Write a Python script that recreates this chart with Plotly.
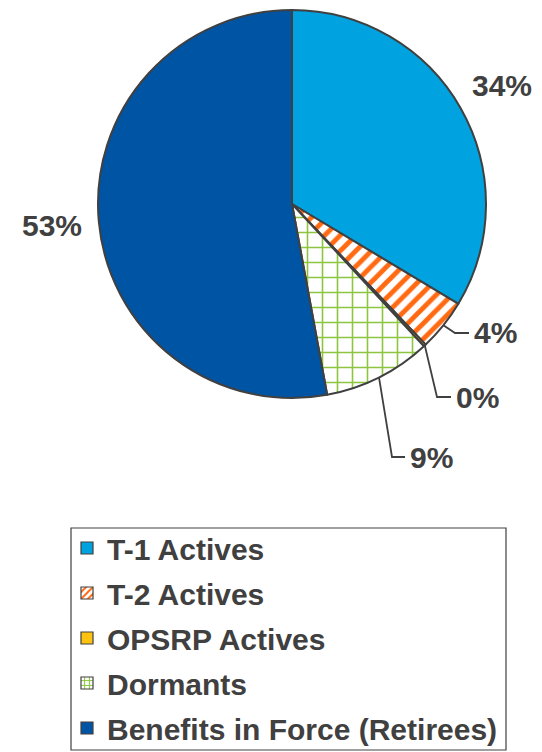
import math
import plotly.graph_objects as go

# ---- data ----
categories = ["T-1 Actives", "T-2 Actives", "OPSRP Actives", "Dormants",
              "Benefits in Force (Retirees)"]
values = [33.6, 4.3, 0.2, 9.0, 52.9]
pct_labels = ["34%", "4%", "0%", "9%", "53%"]

# ---- styles ----
W, H = 542, 752
CX, CY, R = 292, 204, 194
TXT = "#404040"
FONT = "Liberation Sans, Arial, sans-serif"
colors = ["#00A2DF", "#FF6A13", "#FFC20E", "#8CC63F", "#0054A4"]
patterns = [
    dict(shape=""),
    dict(shape="/", fgcolor="#FF6A13", bgcolor="white", size=11, solidity=0.45),
    dict(shape=""),
    dict(shape="+", fgcolor="#8CC63F", bgcolor="white", size=15, solidity=0.2),
    dict(shape=""),
]
# label placement: None -> along slice mid angle; else (elbow_px, end_px) for leader lines
leaders = [None, ((455, 333), (469, 333)), ((437, 397), (451, 397)),
           ((392, 457), (405, 457)), None]
LABEL_R = 241
LEG_BOX = (71, 528, 506, 750)


def px(x, y):
    return x / W, 1 - y / H


fig = go.Figure()
fig.add_trace(go.Pie(
    labels=categories, values=values, sort=False, direction="clockwise",
    rotation=0, textinfo="none", hoverinfo="label+percent", showlegend=False,
    marker=dict(colors=colors, pattern=dict(
        shape=[p.get("shape", "") for p in patterns],
        fgcolor=[p.get("fgcolor", c) for p, c in zip(patterns, colors)],
        bgcolor=[p.get("bgcolor", c) for p, c in zip(patterns, colors)],
        size=[p.get("size", 8) for p in patterns],
        solidity=[p.get("solidity", 0.3) for p in patterns],
        fillmode="replace"),
        line=dict(color=TXT, width=2)),
    domain=dict(x=[(CX - R) / W, (CX + R) / W], y=[1 - (CY + R) / H, 1 - (CY - R) / H]),
))

# legend via proxy bar traces (allows item spacing)
for i, (name, c, p) in enumerate(zip(categories, colors, patterns)):
    fig.add_trace(go.Bar(
        x=[None], y=[None], name="<b>" + name + "</b>", legendgroup=f"g{i}",
        marker=dict(color=c, line=dict(color=TXT, width=1.2),
                    pattern=dict(shape=p.get("shape", ""),
                                 fgcolor=p.get("fgcolor", c),
                                 bgcolor=p.get("bgcolor", c),
                                 size=6, solidity=0.4, fillmode="replace")),
        hoverinfo="skip"))

annotations = []
shapes = []
total = sum(values)
cum = 0.0
for v, lab, ld in zip(values, pct_labels, leaders):
    mid = (cum + v / 2) / total * 2 * math.pi
    cum += v
    sx, sy = math.sin(mid), -math.cos(mid)
    if ld is None:
        lx, ly = CX + LABEL_R * sx, CY + LABEL_R * sy
        ax, ay = px(lx, ly)
        annotations.append(dict(x=ax, y=ay, xref="paper", yref="paper", text="<b>" + lab + "</b>",
                                showarrow=False, xanchor="center", yanchor="middle",
                                font=dict(family=FONT, size=30, color=TXT)))
    else:
        x0, y0 = CX + R * sx, CY + R * sy
        (ex, ey), (fx, fy) = ld
        pts = [(x0, y0), (ex, ey), (fx, fy)]
        path = "M " + " L ".join(f"{px(a, b)[0]},{px(a, b)[1]}" for a, b in pts)
        shapes.append(dict(type="path", path=path, xref="paper", yref="paper",
                           line=dict(color=TXT, width=1.8)))
        ax, ay = px(fx + 3, fy)
        annotations.append(dict(x=ax, y=ay, xref="paper", yref="paper", text="<b>" + lab + "</b>",
                                showarrow=False, xanchor="left", yanchor="middle",
                                font=dict(family=FONT, size=30, color=TXT)))

# legend frame
bx0, by0 = px(LEG_BOX[0], LEG_BOX[1])
bx1, by1 = px(LEG_BOX[2], LEG_BOX[3])
shapes.append(dict(type="rect", xref="paper", yref="paper", x0=bx0, x1=bx1, y0=by1, y1=by0,
                   line=dict(color=TXT, width=1.2), fillcolor="rgba(0,0,0,0)", layer="below"))

lx0, ly0 = px(67, 522)
fig.update_layout(
    width=W, height=H, margin=dict(l=0, r=0, t=0, b=0, autoexpand=False),
    paper_bgcolor="white", plot_bgcolor="white",
    xaxis=dict(visible=False, domain=[0, 0.01]), yaxis=dict(visible=False, domain=[0, 0.01]),
    annotations=annotations, shapes=shapes,
    legend=dict(x=lx0, y=ly0, xanchor="left", yanchor="top", traceorder="grouped",
                tracegroupgap=3, borderwidth=0, bgcolor="rgba(0,0,0,0)",
                font=dict(family=FONT, size=30, color=TXT), itemclick=False),
)
fig.write_html("out.html", config={"displayModeBar": False},
               post_script="document.body.style.margin='0';document.body.style.padding='0';")
